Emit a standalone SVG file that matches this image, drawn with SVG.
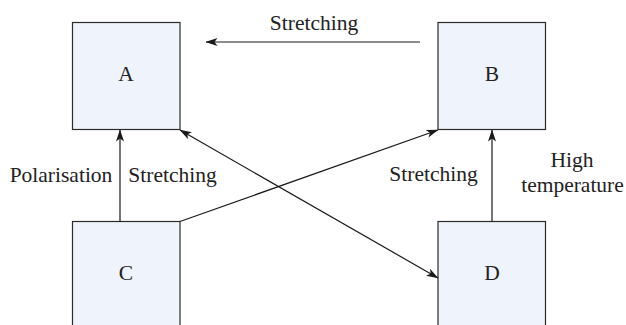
<svg xmlns="http://www.w3.org/2000/svg" width="626" height="325" viewBox="0 0 626 325">
<defs>
<style>
.box{fill:#eff3fb;stroke:#2b2b2b;stroke-width:1.2}
.lbl{font-family:"Liberation Serif","Times New Roman",serif;font-size:21.5px;fill:#222;text-anchor:middle}
.cn{fill:none;stroke:#1a1a1a;stroke-width:1.2}
</style>
<marker id="ah" viewBox="0 0 12 8" refX="11.5" refY="4" markerWidth="12" markerHeight="8" markerUnits="userSpaceOnUse" orient="auto-start-reverse">
<path d="M0,0 L12,4 L0,8 L3,4 Z" fill="#1a1a1a"/>
</marker>
</defs>
<rect width="626" height="325" fill="#ffffff"/>
<g id="A"><rect class="box" x="72.5" y="22.5" width="107.5" height="107"/><text class="lbl" x="126" y="81">A</text></g>
<g id="B"><rect class="box" x="438" y="22.5" width="107.5" height="107"/><text class="lbl" x="492" y="81">B</text></g>
<g id="C"><rect class="box" x="72.5" y="221.5" width="107.5" height="107"/><text class="lbl" x="126" y="280">C</text></g>
<g id="D"><rect class="box" x="438" y="221.5" width="107.5" height="107"/><text class="lbl" x="492" y="280">D</text></g>
<g id="connectors">
<line class="cn" x1="420" y1="42" x2="206" y2="42" marker-end="url(#ah)"/>
<line class="cn" x1="120" y1="221.5" x2="120" y2="130" marker-end="url(#ah)"/>
<line class="cn" x1="180" y1="221.5" x2="438" y2="130" marker-end="url(#ah)"/>
<line class="cn" x1="180" y1="130" x2="438" y2="278" marker-start="url(#ah)" marker-end="url(#ah)"/>
<line class="cn" x1="492" y1="221.5" x2="492" y2="130" marker-end="url(#ah)"/>
</g>
<g id="labels">
<text class="lbl" x="314" y="30">Stretching</text>
<text class="lbl" x="61" y="182">Polarisation</text>
<text class="lbl" x="172.5" y="182">Stretching</text>
<text class="lbl" x="433.5" y="181">Stretching</text>
<text class="lbl" x="572" y="167">High</text>
<text class="lbl" x="572.5" y="192">temperature</text>
</g>
</svg>
